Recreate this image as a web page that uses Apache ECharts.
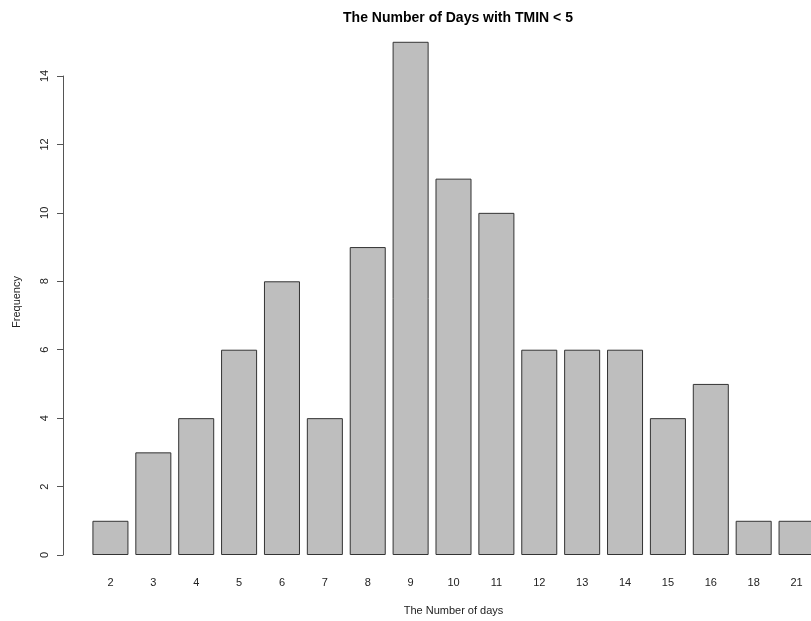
<!DOCTYPE html>
<html>
<head>
<meta charset="utf-8">
<script src="https://cdn.jsdelivr.net/npm/echarts@6/dist/echarts.min.js"></script>
<style>
html,body{margin:0;padding:0;background:#fff;overflow:hidden;}
#chart{width:818px;height:621px;}
</style>
</head>
<body>
<div id="chart"></div>
<script>
var categories = ['2','3','4','5','6','7','8','9','10','11','12','13','14','15','16','18','21'];
var frequencies = [1,3,4,6,8,4,9,15,11,10,6,6,6,4,5,1,1];
var yTicks = [0,2,4,6,8,10,12,14];

var FONT = '"Liberation Sans", Arial, sans-serif';
var chart = echarts.init(document.getElementById('chart'), null, {renderer:'canvas'});
chart.setOption({
  animation: false,
  backgroundColor: '#ffffff',
  title: {
    text: 'The Number of Days with TMIN < 5',
    left: 453, top: 6, textAlign: 'center',
    textStyle: {fontFamily: FONT, fontSize: 14, fontWeight: 'bold', color: '#000'}
  },
  grid: {left: 89, right: 0, top: 76, bottom: 63, containLabel: false},
  xAxis: {
    type: 'category',
    data: categories,
    name: 'The Number of days',
    nameLocation: 'middle',
    nameGap: 50,
    nameTextStyle: {fontFamily: FONT, fontSize: 11, color: '#222'},
    axisLine: {show: false},
    axisTick: {show: false},
    axisLabel: {fontFamily: FONT, fontSize: 11, color: '#222', margin: 22, interval: 0}
  },
  yAxis: {
    type: 'value',
    min: 0, max: 14, interval: 2,
    offset: 26,
    splitLine: {show: false},
    axisLine: {show: true, lineStyle: {color: '#555', width: 1}},
    axisTick: {show: true, length: 6, lineStyle: {color: '#555'}},
    axisLabel: {fontFamily: FONT, fontSize: 11, color: '#222', rotate: 90, margin: 13,
      formatter: function(v){ return yTicks.indexOf(v) >= 0 ? String(v) : ''; }}
  },
  graphic: [{
    type: 'text',
    x: 17, y: 302,
    rotation: Math.PI/2,
    style: {text: 'Frequency', font: '11px ' + FONT, fill: '#222', align: 'center', verticalAlign: 'middle'}
  }],
  series: [{
    type: 'bar',
    data: frequencies,
    clip: false,
    barCategoryGap: '16%',
    itemStyle: {color: '#bebebe', borderColor: '#333', borderWidth: 1}
  }]
});
</script>
</body>
</html>
